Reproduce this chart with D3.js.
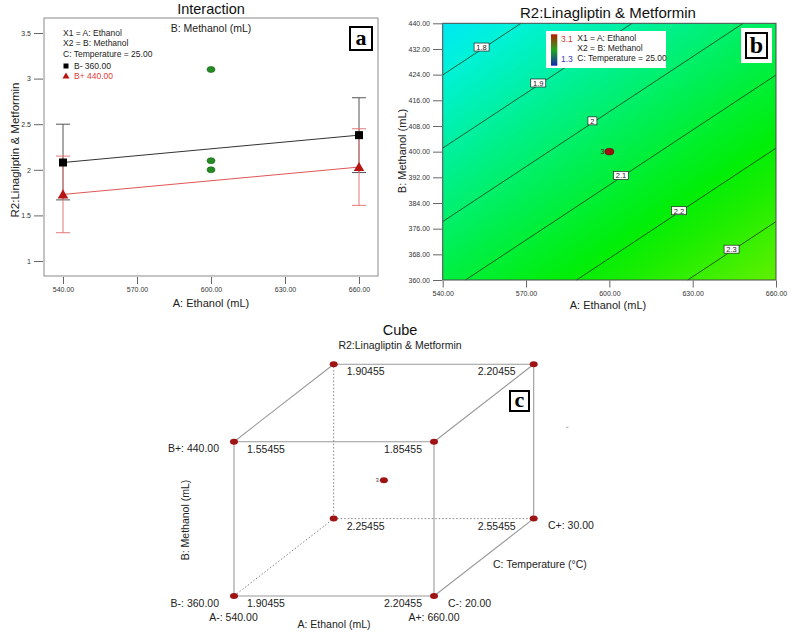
<!DOCTYPE html>
<html><head><meta charset="utf-8">
<script src="https://cdn.jsdelivr.net/npm/d3@7"></script>
<style>body{margin:0;background:#fff}svg{display:block;font-family:"Liberation Sans",Arial,sans-serif}</style>
</head><body><svg id="chart" width="792" height="636"></svg>
<script>
// ---------------- data ----------------
const ethanolTicks = [540, 570, 600, 630, 660];
const responseTicks = [1, 1.5, 2, 2.5, 3, 3.5];
const methanolTicks = [360, 368, 376, 384, 392, 400, 408, 416, 424, 432, 440];
const ethanolLevels = [540, 660];
const bMinusMean = [2.08, 2.38];
const bMinusHigh = [2.50, 2.79];
const bMinusLow = [1.67, 1.97];
const bPlusMean = [1.73, 2.03];
const bPlusHigh = [2.15, 2.45];
const bPlusLow = [1.31, 1.61];
const centerEthanol = 600;
const centerMethanol = 400;
const centerTemperature = 25;
const centerRuns = [3.1, 2.1, 2.0];
const contourLevels = ["1.8", "1.9", "2", "2.1", "2.2", "2.3"];
const contourStart = [[540, 423.9], [540, 401.1], [540, 378.2], [548.2, 360], [588.2, 360], [628.2, 360]];
const contourEnd = [[568.2, 440], [608.2, 440], [648.2, 440], [660, 423.9], [660, 401.1], [660, 378.2]];
const contourLabelAt = [[554.0, 432.6], [574.4, 421.4], [593.9, 409.6], [604.2, 392.6], [625.1, 381.6], [644.0, 369.6]];
const colorLow = 1.3, colorHigh = 3.1;
const cubeVertices = [
  {a: 540, b: 360, c: 20, v: 1.90455}, {a: 660, b: 360, c: 20, v: 2.20455},
  {a: 540, b: 440, c: 20, v: 1.55455}, {a: 660, b: 440, c: 20, v: 1.85455},
  {a: 540, b: 360, c: 30, v: 2.25455}, {a: 660, b: 360, c: 30, v: 2.55455},
  {a: 540, b: 440, c: 30, v: 1.90455}, {a: 660, b: 440, c: 30, v: 2.20455}
];

// ---------------- setup ----------------
const svg = d3.select("#chart");
svg.append("rect").attr("width", 792).attr("height", 636).attr("fill", "#fff");
const defs = svg.append("defs");
const tickFmt2 = d3.format(".2f");

function styleAxis(g) {
  g.select(".domain").remove();
  g.selectAll(".tick line").attr("stroke", "#666");
  g.selectAll(".tick text").attr("fill", "#333").attr("font-size", 7)
    .attr("font-family", '"Liberation Sans",Arial,sans-serif');
}
function labelBox(g, x, y, w, h, ch, fs, pad) {
  if (pad) g.append("rect").attr("x", x - pad).attr("y", y - pad).attr("width", w + 2 * pad).attr("height", h + 2 * pad).attr("fill", "#fff");
  g.append("rect").attr("x", x).attr("y", y).attr("width", w).attr("height", h)
    .attr("fill", "#fff").attr("stroke", "#000").attr("stroke-width", 2);
  g.append("text").attr("x", x + w / 2).attr("y", y + h * 0.78).attr("text-anchor", "middle")
    .attr("font-family", '"Liberation Serif","Times New Roman",serif').attr("font-weight", "bold")
    .attr("font-size", fs).text(ch);
}

// ================= Panel a: Interaction =================
const pa = svg.append("g");
const xA = d3.scaleLinear().domain([540, 660]).range([63, 359]);
const yA = d3.scaleLinear().domain([1, 3.5]).range([261, 33]);
pa.append("rect").attr("x", 44).attr("y", 18).attr("width", 334).attr("height", 258)
  .attr("fill", "#fff").attr("stroke", "#8a8a8a");
pa.append("g").attr("transform", "translate(43,0)")
  .call(d3.axisLeft(yA).tickValues(responseTicks).tickSize(9).tickPadding(3).tickFormat(d3.format("")))
  .call(styleAxis);
pa.append("g").attr("transform", "translate(0,277)")
  .call(d3.axisBottom(xA).tickValues(ethanolTicks).tickSize(7).tickPadding(3).tickFormat(tickFmt2))
  .call(styleAxis);

const seriesA = [
  {mean: bMinusMean, hi: bMinusHigh, lo: bMinusLow, bar: "#555", line: "#333"},
  {mean: bPlusMean, hi: bPlusHigh, lo: bPlusLow, bar: "#e47878", line: "#e05656"}
];
seriesA.forEach(s => {
  ethanolLevels.forEach((e, i) => {
    const x = xA(e);
    pa.append("line").attr("x1", x).attr("x2", x).attr("y1", yA(s.hi[i])).attr("y2", yA(s.lo[i])).attr("stroke", s.bar);
    [s.hi[i], s.lo[i]].forEach(v => pa.append("line").attr("x1", x - 7).attr("x2", x + 7)
      .attr("y1", yA(v)).attr("y2", yA(v)).attr("stroke", s.bar));
  });
});
seriesA.forEach(s => {
  pa.append("path").attr("d", d3.line().x((d, i) => xA(ethanolLevels[i])).y(d => yA(d))(s.mean))
    .attr("fill", "none").attr("stroke", s.line);
});
ethanolLevels.forEach((e, i) => {
  pa.append("rect").attr("x", xA(e) - 4).attr("y", yA(bMinusMean[i]) - 4).attr("width", 8).attr("height", 8).attr("fill", "#000");
  pa.append("path").attr("d", d3.symbol(d3.symbolTriangle, 48)())
    .attr("transform", `translate(${xA(e)},${yA(bPlusMean[i]) + 1})`).attr("fill", "#b81414");
});
centerRuns.forEach(v => {
  pa.append("ellipse").attr("cx", xA(centerEthanol)).attr("cy", yA(v)).attr("rx", 4).attr("ry", 3)
    .attr("fill", "#238c23").attr("stroke", "#166016").attr("stroke-width", 0.6);
});
// legend a
const legA = [["X1 = A: Ethanol", 36.3], ["X2 = B: Methanol", 45.7], ["C: Temperature = 25.00", 57]];
legA.forEach(([t, y]) => pa.append("text").attr("x", 63).attr("y", y).attr("font-size", 8.5).attr("fill", "#222").text(t));
pa.append("rect").attr("x", 63.5).attr("y", 63.5).attr("width", 5).attr("height", 5).attr("fill", "#000");
pa.append("text").attr("x", 74).attr("y", 69).attr("font-size", 8.5).attr("fill", "#222").text("B- 360.00");
pa.append("path").attr("d", d3.symbol(d3.symbolTriangle, 22)()).attr("transform", "translate(66,76.5)").attr("fill", "#b81414");
pa.append("text").attr("x", 74).attr("y", 79).attr("font-size", 8.5).attr("fill", "#e03a3a").text("B+ 440.00");
// titles a
pa.append("text").attr("x", 211).attr("y", 14).attr("text-anchor", "middle").attr("font-size", 14.5).attr("fill", "#111").text("Interaction");
pa.append("text").attr("x", 211).attr("y", 32).attr("text-anchor", "middle").attr("font-size", 10.5).attr("fill", "#222").text("B: Methanol (mL)");
pa.append("text").attr("x", 211).attr("y", 307).attr("text-anchor", "middle").attr("font-size", 11).attr("fill", "#222").text("A: Ethanol (mL)");
pa.append("text").attr("transform", "translate(19,150) rotate(-90)").attr("text-anchor", "middle").attr("font-size", 11.5).attr("fill", "#222").text("R2:Linagliptin & Metformin");
labelBox(pa, 350, 27, 22, 23, "a", 22, 0);

// ================= Panel b: contour =================
const pb = svg.append("g");
const xB = d3.scaleLinear().domain([540, 660]).range([442.7, 776]);
const yB = d3.scaleLinear().domain([360, 440]).range([280, 23.3]);
const color = d3.scaleLinear()
  .domain([colorLow, colorLow + (colorHigh - colorLow) * 0.25, colorLow + (colorHigh - colorLow) * 0.5, colorLow + (colorHigh - colorLow) * 0.75, colorHigh])
  .range(["#0000ff", "#00f2f2", "#00ee00", "#f2f200", "#ff0000"]);
// surface gradient from the four predicted corner responses (same as panel a means)
const fTL = bPlusMean[0], fBL = bMinusMean[0], fBR = bMinusMean[1];
const x0 = xB(540), x1 = xB(660), y0 = yB(440), y1 = yB(360);
const gx = (fBR - fBL) / (x1 - x0), gy = (fBL - fTL) / (y1 - y0);
const g2 = gx * gx + gy * gy;
const span = fBR - fTL;
const grad = defs.append("linearGradient").attr("id", "surf").attr("gradientUnits", "userSpaceOnUse")
  .attr("x1", x0).attr("y1", y0).attr("x2", x0 + gx / g2 * span).attr("y2", y0 + gy / g2 * span);
d3.range(0, 1.0001, 0.1).forEach(t => grad.append("stop").attr("offset", t).attr("stop-color", color(fTL + t * span)));
pb.append("rect").attr("x", x0).attr("y", y0).attr("width", x1 - x0).attr("height", y1 - y0).attr("fill", "url(#surf)");
contourLevels.forEach((lv, i) => {
  pb.append("line").attr("x1", xB(contourStart[i][0])).attr("y1", yB(contourStart[i][1]))
    .attr("x2", xB(contourEnd[i][0])).attr("y2", yB(contourEnd[i][1])).attr("stroke", "#1a3a1a").attr("stroke-width", 0.8);
});
contourLevels.forEach((lv, i) => {
  const cx = xB(contourLabelAt[i][0]), cy = yB(contourLabelAt[i][1]);
  const w = lv.length > 1 ? 15 : 9;
  pb.append("rect").attr("x", cx - w / 2).attr("y", cy - 4).attr("width", w).attr("height", 8)
    .attr("fill", "#fff").attr("stroke", "#222").attr("stroke-width", 0.7);
  pb.append("text").attr("x", cx).attr("y", cy + 3).attr("text-anchor", "middle").attr("font-size", 7.5).attr("fill", "#222").text(lv);
});
pb.append("ellipse").attr("cx", xB(centerEthanol)).attr("cy", yB(centerMethanol)).attr("rx", 4.5).attr("ry", 3.3)
  .attr("fill", "#a01010").attr("stroke", "#5a0a0a").attr("stroke-width", 0.6);
pb.append("text").attr("x", xB(centerEthanol) - 5).attr("y", yB(centerMethanol) + 2.5).attr("text-anchor", "end")
  .attr("font-size", 7).attr("fill", "#5a1010").text(String(centerRuns.length));
pb.append("rect").attr("x", x0).attr("y", y0).attr("width", x1 - x0).attr("height", y1 - y0)
  .attr("fill", "none").attr("stroke", "#4a4a4a");
pb.append("g").attr("transform", "translate(442,0)")
  .call(d3.axisLeft(yB).tickValues(methanolTicks).tickSize(9).tickPadding(3).tickFormat(tickFmt2)).call(styleAxis);
pb.append("g").attr("transform", "translate(0,280.5)")
  .call(d3.axisBottom(xB).tickValues(ethanolTicks).tickSize(7).tickPadding(4).tickFormat(tickFmt2)).call(styleAxis);
// legend b
pb.append("rect").attr("x", 546).attr("y", 31).attr("width", 120).attr("height", 37).attr("fill", "#fff");
const cbar = defs.append("linearGradient").attr("id", "cbar").attr("x1", 0).attr("y1", 0).attr("x2", 0).attr("y2", 1);
[[0, "#b81e00"], [0.5, "#1fa81f"], [1, "#1428b4"]].forEach(([o, c]) => cbar.append("stop").attr("offset", o).attr("stop-color", c));
pb.append("rect").attr("x", 551).attr("y", 34.3).attr("width", 6.3).attr("height", 31.4).attr("fill", "url(#cbar)");
pb.append("text").attr("x", 561).attr("y", 42).attr("font-size", 8.5).attr("fill", "#c83c3c").text(String(colorHigh));
pb.append("text").attr("x", 561).attr("y", 62).attr("font-size", 8.5).attr("fill", "#3c3cc0").text(String(colorLow));
[["X1 = A: Ethanol", 41.3], ["X2 = B: Methanol", 51.3], ["C: Temperature = 25.00", 61.3]].forEach(([t, y]) =>
  pb.append("text").attr("x", 577.3).attr("y", y).attr("font-size", 8.5).attr("fill", "#222").text(t));
// titles b
pb.append("text").attr("x", 608).attr("y", 18).attr("text-anchor", "middle").attr("font-size", 15).attr("fill", "#111").text("R2:Linagliptin & Metformin");
pb.append("text").attr("x", 608).attr("y", 309).attr("text-anchor", "middle").attr("font-size", 11).attr("fill", "#222").text("A: Ethanol (mL)");
pb.append("text").attr("transform", "translate(406,151) rotate(-90)").attr("text-anchor", "middle").attr("font-size", 11).attr("fill", "#222").text("B: Methanol (mL)");
labelBox(pb, 746, 33, 21, 25, "b", 24, 5);

// ================= Panel c: cube =================
const pc = svg.append("g");
const xC = d3.scaleLinear().domain([540, 660]).range([234, 434]);
const yC = d3.scaleLinear().domain([360, 440]).range([596, 441.7]);
const dxC = d3.scaleLinear().domain([20, 30]).range([0, 99.7]);
const dyC = d3.scaleLinear().domain([20, 30]).range([0, -77.4]);
const px = d => xC(d.a) + dxC(d.c), py = d => yC(d.b) + dyC(d.c);
const hidden = d => d.a === 540 && d.b === 360 && d.c === 30;
for (let i = 0; i < cubeVertices.length; i++) for (let j = i + 1; j < cubeVertices.length; j++) {
  const p = cubeVertices[i], q = cubeVertices[j];
  const diff = (p.a !== q.a) + (p.b !== q.b) + (p.c !== q.c);
  if (diff !== 1) continue;
  const dotted = hidden(p) || hidden(q);
  pc.append("line").attr("x1", px(p)).attr("y1", py(p)).attr("x2", px(q)).attr("y2", py(q))
    .attr("stroke", dotted ? "#777" : "#9a9a9a").attr("stroke-width", dotted ? 0.9 : 1.1)
    .attr("stroke-dasharray", dotted ? "1.5,2" : null);
}
const fmt5 = d3.format(".5f");
cubeVertices.forEach(d => {
  pc.append("ellipse").attr("cx", px(d)).attr("cy", py(d)).attr("rx", 4).attr("ry", 3).attr("fill", "#9e1414");
  const left = d.a === 540;
  pc.append("text").attr("x", left ? px(d) + 13 : px(d) - (d.c === 30 ? 18 : 12)).attr("y", py(d) + 11)
    .attr("text-anchor", left ? "start" : "end").attr("font-size", 10.5).attr("fill", "#222").text(fmt5(d.v));
});
const cc = {a: centerEthanol, b: centerMethanol, c: centerTemperature};
pc.append("ellipse").attr("cx", px(cc)).attr("cy", py(cc)).attr("rx", 4).attr("ry", 3).attr("fill", "#9e1414");
pc.append("text").attr("x", px(cc) - 5).attr("y", py(cc) + 2).attr("text-anchor", "end").attr("font-size", 6).attr("fill", "#444").text(String(centerRuns.length));
const cubeText = [
  ["B+: 440.00", 219, 451.5, "end"], ["B-: 360.00", 219, 606.5, "end"],
  ["A-: 540.00", 233.5, 621, "middle"], ["A+: 660.00", 434, 621, "middle"],
  ["A: Ethanol (mL)", 334, 628, "middle"], ["C-: 20.00", 448, 606.5, "start"],
  ["C+: 30.00", 548, 528.8, "start"], ["C: Temperature (\u00B0C)", 493, 568, "start"]
];
cubeText.forEach(([t, x, y, a]) => pc.append("text").attr("x", x).attr("y", y).attr("text-anchor", a)
  .attr("font-size", 10.5).attr("fill", "#222").text(t));
pc.append("text").attr("transform", "translate(189,520) rotate(-90)").attr("text-anchor", "middle").attr("font-size", 10.5).attr("fill", "#222").text("B: Methanol (mL)");
pc.append("text").attr("x", 400).attr("y", 335).attr("text-anchor", "middle").attr("font-size", 14.5).attr("fill", "#111").text("Cube");
pc.append("text").attr("x", 400).attr("y", 349).attr("text-anchor", "middle").attr("font-size", 10.5).attr("fill", "#222").text("R2:Linagliptin & Metformin");
pc.append("line").attr("x1", 566).attr("x2", 568.5).attr("y1", 427.3).attr("y2", 427.3).attr("stroke", "#aaa");
labelBox(pc, 510, 391, 19, 20, "c", 22, 0);
</script></body></html>
